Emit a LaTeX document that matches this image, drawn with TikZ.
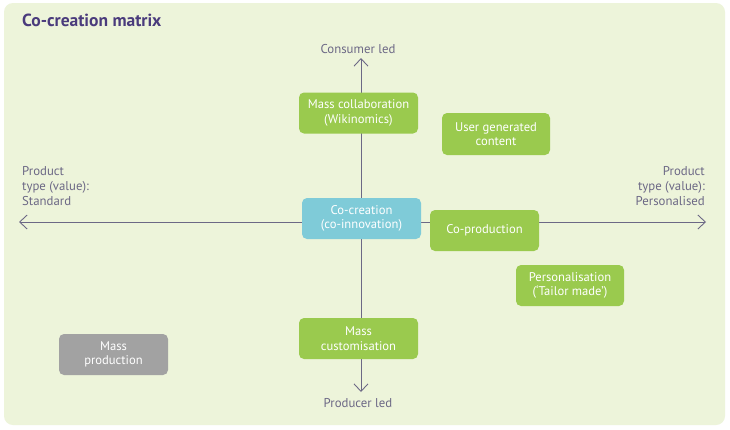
\documentclass[tikz,border=0pt]{standalone}
\usepackage{fontspec}
\setmainfont{PT Sans}
\usetikzlibrary{arrows.meta}
\definecolor{bgc}{HTML}{EDF4DA}
\definecolor{boxg}{HTML}{9ACA4E}
\definecolor{boxb}{HTML}{7FCBD8}
\definecolor{boxgr}{HTML}{A2A2A2}
\definecolor{axisc}{HTML}{6C6885}
\definecolor{titlec}{HTML}{4A3B7C}
\tikzset{
  box/.style={rounded corners=5pt, minimum width=119pt, minimum height=41pt, text=white, align=center, font=\fontsize{12.6}{14.5}\selectfont, inner sep=2pt},
  gbox/.style={box, fill=boxg},
  axis/.style={draw=axisc, line width=0.9pt, -{Straight Barb[length=7.5pt,width=14pt,line width=0.9pt]}},
  lbl/.style={text=axisc, font=\fontsize{12.8}{15}\selectfont, inner sep=0pt}
}
\begin{document}
\begin{tikzpicture}[x=1pt,y=-1pt]
\useasboundingbox (0,0) rectangle (730,429);
\fill[white] (0,0) rectangle (730,429);
\fill[bgc, rounded corners=9pt] (4,3) rectangle (725,425);
\node[anchor=west, text=titlec, font=\bfseries\fontsize{17.5}{20}\selectfont, inner sep=0pt] (title) at (22,20) {Co-creation matrix};
\coordinate (top) at (361,58);
\coordinate (bot) at (361,392);
\coordinate (lft) at (19,222);
\coordinate (rgt) at (706,222);
\coordinate (c) at (361,222);
\draw[axis] (c) -- (top);
\draw[axis] (c) -- (bot);
\draw[axis] (c) -- (lft);
\draw[axis] (c) -- (rgt);
\node[lbl] (cl) at (358,49) {Consumer led};
\node[lbl] (pl) at (358,403) {Producer led};
\node[lbl, anchor=north west, align=left] (ls) at (22,166) {Product\\type (value):\\Standard};
\node[lbl, anchor=north east, align=right] (rs) at (705,166) {Product\\type (value):\\Personalised};
\node[gbox] (mc) at (358.5,113) {Mass collaboration\\(Wikinomics)};
\node[gbox, minimum width=108pt, minimum height=42pt] (ugc) at (496,134) {User generated\\content};
\node[box, fill=boxb] (cc) at (361.5,218.5) {Co-creation\\(co-innovation)};
\node[gbox, minimum width=109pt] (cp) at (484.5,230.5) {Co-production};
\node[gbox, minimum width=108pt] (ps) at (570,285.5) {Personalisation\\(‘Tailor made’)};
\node[gbox] (mcu) at (358.5,338.5) {Mass\\customisation};
\node[box, fill=boxgr, minimum width=109pt] (mp) at (113.5,354.5) {Mass\\production};
\end{tikzpicture}
\end{document}
